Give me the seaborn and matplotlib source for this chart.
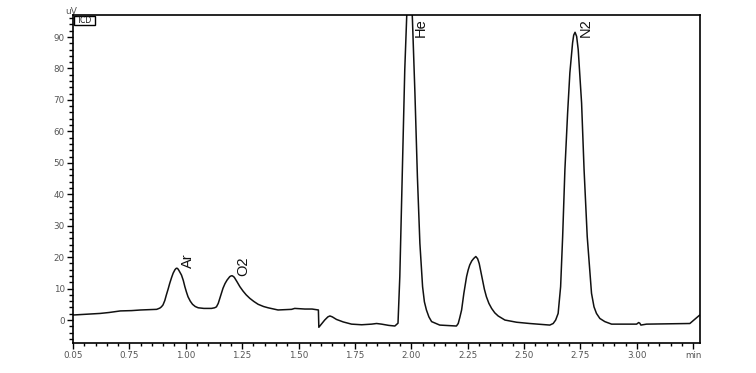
import matplotlib
matplotlib.use("Agg")
import matplotlib.pyplot as plt
from matplotlib.ticker import MultipleLocator, FixedLocator
from matplotlib.patches import Rectangle
import seaborn as sns
import pandas as pd

# ---- data ----
time_min = [0.50, 0.55, 0.62, 0.66, 0.71, 0.76, 0.80, 0.84, 0.871, 0.885,
            0.892, 0.899, 0.907, 0.914, 0.922, 0.929, 0.937, 0.944, 0.952, 0.957,
            0.961, 0.966, 0.971, 0.981, 0.989, 0.996, 1.003, 1.010, 1.020, 1.030,
            1.042, 1.055, 1.080, 1.114, 1.128, 1.136, 1.144, 1.151, 1.158, 1.165,
            1.174, 1.183, 1.195, 1.200, 1.205, 1.210, 1.215, 1.227, 1.240, 1.254,
            1.268, 1.284, 1.302, 1.321, 1.345, 1.365, 1.409, 1.469, 1.483, 1.528,
            1.560, 1.588, 1.590, 1.616, 1.630, 1.639, 1.650, 1.668, 1.698, 1.735,
            1.780, 1.824, 1.846, 1.868, 1.900, 1.927, 1.941, 1.949, 1.956, 1.964,
            1.971, 1.979, 1.985, 1.992, 1.998, 2.005, 2.016, 2.027, 2.038, 2.050,
            2.058, 2.067, 2.078, 2.090, 2.126, 2.171, 2.200, 2.208, 2.215, 2.223,
            2.233, 2.245, 2.252, 2.259, 2.268, 2.277, 2.286, 2.294, 2.301, 2.308,
            2.316, 2.324, 2.333, 2.344, 2.356, 2.370, 2.385, 2.415, 2.467, 2.525,
            2.614, 2.629, 2.640, 2.651, 2.662, 2.671, 2.681, 2.693, 2.703, 2.715,
            2.720, 2.726, 2.733, 2.740, 2.755, 2.766, 2.780, 2.799, 2.810, 2.821,
            2.836, 2.858, 2.888, 2.999, 3.008, 3.013, 3.018, 3.043, 3.235, 3.279]
signal_uv = [1.6, 1.8, 2.1, 2.4, 2.9, 3.0, 3.2, 3.3, 3.4, 3.8,
             4.2, 4.8, 6.2, 8.0, 9.9, 11.7, 13.5, 14.9, 16.0, 16.4,
             16.5, 16.2, 15.6, 14.3, 12.6, 10.6, 8.9, 7.4, 6.0, 5.0,
             4.3, 3.9, 3.7, 3.7, 3.9, 4.2, 5.3, 6.9, 8.5, 10.1,
             11.6, 12.7, 13.8, 14.0, 14.1, 13.9, 13.6, 12.2, 10.6, 9.2,
             8.0, 6.9, 5.9, 5.0, 4.3, 3.9, 3.2, 3.4, 3.7, 3.5,
             3.5, 3.2, -2.3, 0.0, 1.0, 1.3, 1.0, 0.2, -0.6, -1.3,
             -1.5, -1.3, -1.1, -1.3, -1.7, -1.9, -1.0, 13.8, 35.0, 58.4,
             79.6, 95.5, 107.0, 112.0, 107.0, 95.5, 72.2, 45.6, 24.4, 10.6,
             5.8, 3.2, 1.0, -0.5, -1.6, -1.8, -1.9, -1.1, 0.8, 3.2,
             8.5, 13.8, 15.9, 17.5, 18.8, 19.6, 20.2, 19.5, 18.0, 15.5,
             12.7, 9.8, 7.4, 5.3, 3.7, 2.3, 1.3, 0.0, -0.7, -1.1,
             -1.6, -1.1, 0.0, 2.1, 10.6, 26.5, 47.8, 65.8, 78.6, 88.1,
             90.6, 91.5, 90.2, 86.0, 69.0, 47.8, 26.5, 8.5, 4.2, 2.1,
             0.5, -0.5, -1.3, -1.3, -0.8, -1.0, -1.6, -1.3, -1.1, 1.6]

peak_names = ["Ar", "O2", "He", "N2"]
peak_label_x = [0.961, 1.205, 1.992, 2.726]
peak_label_y = [16.5, 14.1, 90.0, 90.0]

x_tick_values = [0.50, 0.75, 1.00, 1.25, 1.50, 1.75, 2.00, 2.25, 2.50, 2.75, 3.00, 3.25]
x_tick_labels = ["0.05", "0.75", "1.00", "1.25", "1.50", "1.75", "2.00",
                 "2.25", "2.50", "2.75", "3.00", "min"]
y_tick_values = [0, 10, 20, 30, 40, 50, 60, 70, 80, 90]

df = pd.DataFrame({"time": time_min, "signal": signal_uv})

sns.set_style("white")
plt.rcParams["font.family"] = ["DejaVu Sans"]

fig = plt.figure(figsize=(7.56, 3.73), dpi=100)
ax = fig.add_axes([73 / 756, 1 - 343 / 373, (700 - 73) / 756, (343 - 15) / 373])

sns.lineplot(data=df, x="time", y="signal", ax=ax, estimator=None, sort=False,
             color="#111111", linewidth=1.1)

ax.set_xlim(0.50, 3.28)
ax.set_ylim(-7.3, 97.0)
ax.set_xlabel("")
ax.set_ylabel("")

ax.xaxis.set_major_locator(FixedLocator(x_tick_values))
ax.set_xticklabels(x_tick_labels)
ax.xaxis.set_minor_locator(MultipleLocator(0.05))
ax.yaxis.set_major_locator(FixedLocator(y_tick_values))
ax.yaxis.set_minor_locator(MultipleLocator(2))

ax.tick_params(axis="both", which="major", direction="out", length=4, width=1.0,
               color="black", labelsize=6.3, labelcolor="#555555", pad=2,
               left=True, bottom=True)
ax.tick_params(axis="y", which="minor", direction="out", length=3, width=1.0,
               color="black", left=True)
ax.tick_params(axis="x", which="minor", direction="out", length=2.5, width=1.0,
               color="black", bottom=True)

for side in ["left", "bottom", "top", "right"]:
    ax.spines[side].set_visible(True)
    ax.spines[side].set_color("black")
    ax.spines[side].set_linewidth(1.2)

for name, px, py in zip(peak_names, peak_label_x, peak_label_y):
    ax.annotate(name, xy=(px, py), xytext=(8, 0), textcoords="offset points",
                rotation=90, ha="center", va="bottom", fontsize=10.5,
                family=["Liberation Sans", "DejaVu Sans"], color="#111111",
                annotation_clip=False)

# unit label and detector box
fig.text(71 / 756, 1 - 11 / 373, "uV", fontsize=6.5, color="#555555",
         ha="center", va="center")
box = Rectangle((74 / 756, 1 - 25 / 373), 21 / 756, 9 / 373, transform=fig.transFigure,
                fill=False, edgecolor="black", linewidth=1.0)
fig.add_artist(box)
fig.text(84.5 / 756, 1 - 20.5 / 373, "TCD", fontsize=5.5, color="#111111",
         ha="center", va="center")

fig.savefig("out.png", dpi=100)
